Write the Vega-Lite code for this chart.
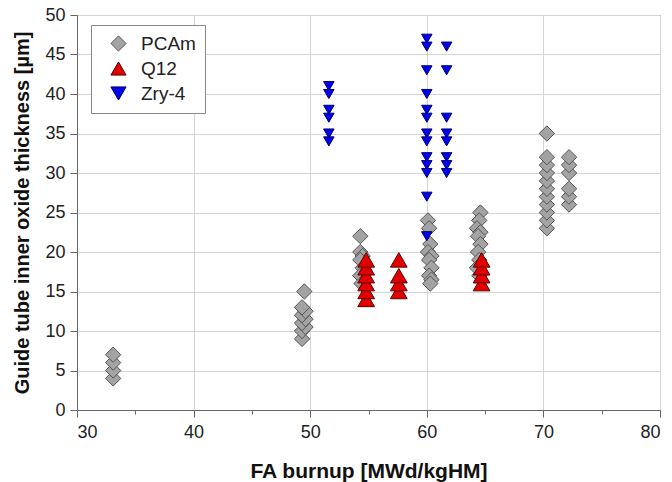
{
  "$schema": "https://vega.github.io/schema/vega-lite/v6.json",
  "width": 583,
  "height": 395,
  "autosize": {"type": "none"},
  "padding": {"left": 77, "top": 15, "right": 12, "bottom": 72},
  "background": "white",
  "config": {
    "font": "Liberation Sans",
    "view": {"stroke": "#777777", "strokeWidth": 1},
    "legend": {
      "title": null, "orient": "none", "legendX": 14, "legendY": 10,
      "fillColor": "white", "strokeColor": "#888888", "padding": 9,
      "labelFontSize": 19, "labelColor": "#222222", "rowPadding": 5,
      "symbolSize": 230, "symbolStrokeWidth": 1,
      "symbolOffset": 9, "labelOffset": 13
    }
  },
  "data": {
    "values": [
      {"s": "PCAm", "x": 33.1, "y": 4}, {"s": "PCAm", "x": 33.1, "y": 5}, {"s": "PCAm", "x": 33.1, "y": 6}, {"s": "PCAm", "x": 33.1, "y": 7},
      {"s": "PCAm", "x": 49.3, "y": 9}, {"s": "PCAm", "x": 49.3, "y": 10}, {"s": "PCAm", "x": 49.6, "y": 10.5}, {"s": "PCAm", "x": 49.3, "y": 11}, {"s": "PCAm", "x": 49.6, "y": 11.5}, {"s": "PCAm", "x": 49.3, "y": 12}, {"s": "PCAm", "x": 49.6, "y": 12.5}, {"s": "PCAm", "x": 49.3, "y": 13}, {"s": "PCAm", "x": 49.5, "y": 15},
      {"s": "PCAm", "x": 54.3, "y": 22}, {"s": "PCAm", "x": 54.3, "y": 20}, {"s": "PCAm", "x": 54.5, "y": 19.5}, {"s": "PCAm", "x": 54.3, "y": 19}, {"s": "PCAm", "x": 54.5, "y": 18}, {"s": "PCAm", "x": 54.3, "y": 17}, {"s": "PCAm", "x": 54.4, "y": 16},
      {"s": "PCAm", "x": 60.1, "y": 24}, {"s": "PCAm", "x": 60.2, "y": 23}, {"s": "PCAm", "x": 60.3, "y": 21}, {"s": "PCAm", "x": 60.1, "y": 20}, {"s": "PCAm", "x": 60.4, "y": 19.5}, {"s": "PCAm", "x": 60.2, "y": 19}, {"s": "PCAm", "x": 60.4, "y": 18}, {"s": "PCAm", "x": 60.2, "y": 17}, {"s": "PCAm", "x": 60.4, "y": 16.5}, {"s": "PCAm", "x": 60.3, "y": 16},
      {"s": "PCAm", "x": 64.6, "y": 25}, {"s": "PCAm", "x": 64.5, "y": 24}, {"s": "PCAm", "x": 64.3, "y": 23}, {"s": "PCAm", "x": 64.6, "y": 22.5}, {"s": "PCAm", "x": 64.4, "y": 22}, {"s": "PCAm", "x": 64.6, "y": 21}, {"s": "PCAm", "x": 64.4, "y": 20}, {"s": "PCAm", "x": 64.5, "y": 19}, {"s": "PCAm", "x": 64.3, "y": 18}, {"s": "PCAm", "x": 64.5, "y": 17},
      {"s": "PCAm", "x": 70.3, "y": 23}, {"s": "PCAm", "x": 70.3, "y": 24}, {"s": "PCAm", "x": 70.3, "y": 25}, {"s": "PCAm", "x": 70.3, "y": 26}, {"s": "PCAm", "x": 70.3, "y": 27}, {"s": "PCAm", "x": 70.3, "y": 28}, {"s": "PCAm", "x": 70.3, "y": 29}, {"s": "PCAm", "x": 70.3, "y": 30}, {"s": "PCAm", "x": 70.3, "y": 31}, {"s": "PCAm", "x": 70.3, "y": 32}, {"s": "PCAm", "x": 70.3, "y": 35},
      {"s": "PCAm", "x": 72.2, "y": 26}, {"s": "PCAm", "x": 72.2, "y": 27}, {"s": "PCAm", "x": 72.2, "y": 28}, {"s": "PCAm", "x": 72.2, "y": 30}, {"s": "PCAm", "x": 72.2, "y": 31}, {"s": "PCAm", "x": 72.2, "y": 32},
      {"s": "Q12", "x": 54.8, "y": 14}, {"s": "Q12", "x": 54.8, "y": 15}, {"s": "Q12", "x": 54.8, "y": 16}, {"s": "Q12", "x": 54.8, "y": 17}, {"s": "Q12", "x": 54.8, "y": 18}, {"s": "Q12", "x": 54.8, "y": 19},
      {"s": "Q12", "x": 57.6, "y": 15}, {"s": "Q12", "x": 57.6, "y": 16}, {"s": "Q12", "x": 57.6, "y": 17}, {"s": "Q12", "x": 57.6, "y": 19},
      {"s": "Q12", "x": 64.7, "y": 16}, {"s": "Q12", "x": 64.7, "y": 17}, {"s": "Q12", "x": 64.7, "y": 18}, {"s": "Q12", "x": 64.7, "y": 19},
      {"s": "Zry-4", "x": 51.6, "y": 34}, {"s": "Zry-4", "x": 51.6, "y": 35}, {"s": "Zry-4", "x": 51.6, "y": 37}, {"s": "Zry-4", "x": 51.6, "y": 38}, {"s": "Zry-4", "x": 51.6, "y": 40}, {"s": "Zry-4", "x": 51.6, "y": 41},
      {"s": "Zry-4", "x": 60.0, "y": 47}, {"s": "Zry-4", "x": 60.0, "y": 46}, {"s": "Zry-4", "x": 60.0, "y": 43}, {"s": "Zry-4", "x": 60.0, "y": 40}, {"s": "Zry-4", "x": 60.0, "y": 38}, {"s": "Zry-4", "x": 60.0, "y": 37}, {"s": "Zry-4", "x": 60.0, "y": 35}, {"s": "Zry-4", "x": 60.0, "y": 34}, {"s": "Zry-4", "x": 60.0, "y": 32}, {"s": "Zry-4", "x": 60.0, "y": 31}, {"s": "Zry-4", "x": 60.0, "y": 30}, {"s": "Zry-4", "x": 60.0, "y": 27}, {"s": "Zry-4", "x": 60.0, "y": 22},
      {"s": "Zry-4", "x": 61.7, "y": 46}, {"s": "Zry-4", "x": 61.7, "y": 43}, {"s": "Zry-4", "x": 61.7, "y": 37}, {"s": "Zry-4", "x": 61.7, "y": 35}, {"s": "Zry-4", "x": 61.7, "y": 34}, {"s": "Zry-4", "x": 61.7, "y": 32}, {"s": "Zry-4", "x": 61.7, "y": 31}, {"s": "Zry-4", "x": 61.7, "y": 30}
    ]
  },
  "mark": {"type": "point", "filled": true, "opacity": 1, "strokeWidth": 1},
  "encoding": {
    "x": {
      "field": "x", "type": "quantitative",
      "scale": {"domain": [30, 80], "nice": false, "zero": false},
      "axis": {
        "title": "FA burnup [MWd/kgHM]",
        "values": [30, 35, 40, 45, 50, 55, 60, 65, 70, 75, 80],
        "labelExpr": "datum.value % 10 == 0 ? datum.label : ''",
        "labelOverlap": false,
        "labelFontSize": 18, "labelColor": "#222222", "labelPadding": 6,
        "titleFontSize": 21, "titleFontWeight": "bold", "titleColor": "#111111", "titlePadding": 19,
        "domainColor": "#666666", "tickColor": "#666666",
        "tickSize": {"condition": {"test": "datum.value % 10 != 0", "value": 4}, "value": 7},
        "gridColor": "#d4d4d4",
        "gridOpacity": {"condition": {"test": "datum.value % 10 != 0", "value": 0}, "value": 1}
      }
    },
    "y": {
      "field": "y", "type": "quantitative",
      "scale": {"domain": [0, 50], "nice": false},
      "axis": {
        "title": "Guide tube inner oxide thickness [µm]",
        "values": [0, 5, 10, 15, 20, 25, 30, 35, 40, 45, 50],
        "labelFontSize": 18, "labelColor": "#222222", "labelPadding": 5,
        "titleFontSize": 20, "titleFontWeight": "bold", "titleColor": "#111111", "titlePadding": 12,
        "domainColor": "#666666", "tickColor": "#666666", "tickSize": 7,
        "gridColor": "#d4d4d4"
      }
    },
    "shape": {
      "field": "s", "type": "nominal",
      "scale": {"domain": ["PCAm", "Q12", "Zry-4"], "range": ["diamond", "triangle-up", "triangle-down"]}
    },
    "fill": {
      "field": "s", "type": "nominal",
      "scale": {"domain": ["PCAm", "Q12", "Zry-4"], "range": ["#a3a3a3", "#e00000", "#0000ee"]}
    },
    "stroke": {
      "field": "s", "type": "nominal",
      "scale": {"domain": ["PCAm", "Q12", "Zry-4"], "range": ["#555555", "#5a0000", "#00006a"]}
    },
    "size": {
      "condition": [
        {"test": "datum.s == 'Zry-4'", "value": 110},
        {"test": "datum.s == 'Q12'", "value": 280}
      ],
      "value": 235
    }
  }
}
